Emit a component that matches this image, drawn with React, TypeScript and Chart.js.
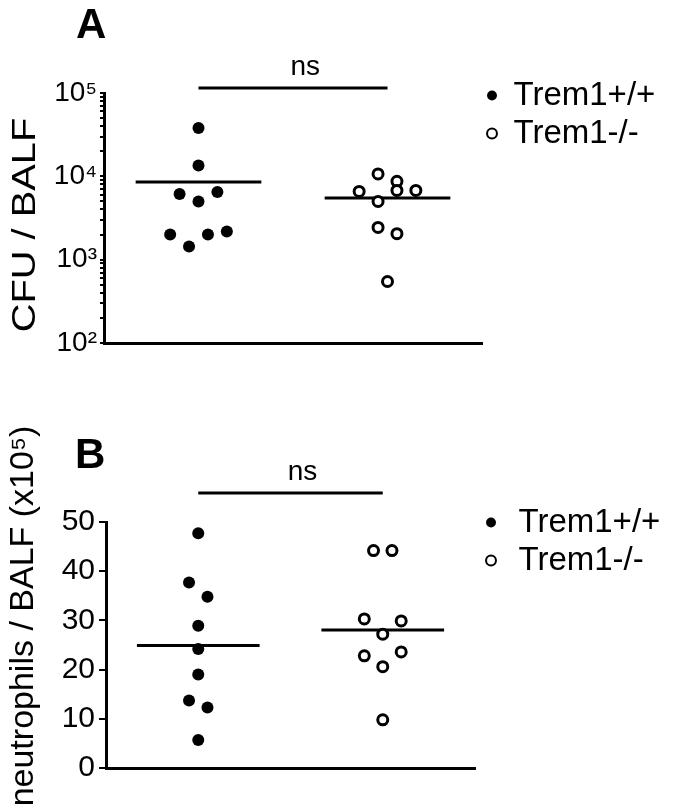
import React, { useEffect, useRef } from 'react';
import { Chart, registerables } from 'chart.js';

Chart.register(...registerables);

const FAMILY = "'Liberation Sans', Arial, Helvetica, sans-serif";
Chart.defaults.font.family = FAMILY;
Chart.defaults.color = '#000';

// ---------- data ----------
const groups = ['Trem1+/+', 'Trem1-/-'];

// Panel A: CFU / BALF (log scale)
const cfuWT = [38000, 13500, 6140, 6490, 5000, 2000, 1440, 2000, 2180];
const cfuWTJitter = [0, 0, -0.2, 0.2, 0, -0.3, -0.1, 0.1, 0.3];
const cfuKO = [10700, 8700, 6590, 6780, 6780, 5000, 2440, 2050, 547];
const cfuKOJitter = [-0.1, 0.1, -0.3, 0.1, 0.3, -0.1, -0.1, 0.1, 0];
const cfuTicks = [100, 1000, 10000, 100000];
const cfuSigLevel = 115000;

// Panel B: neutrophils / BALF (x10^5)
const neuWT = [47.7, 37.7, 34.8, 28.9, 24.2, 19.0, 13.7, 12.3, 5.7];
const neuWTJitter = [0, -0.1, 0.1, 0, 0, 0, -0.1, 0.1, 0];
const neuKO = [44.2, 44.2, 30.3, 29.9, 27.2, 23.6, 22.8, 20.6, 9.8];
const neuKOJitter = [-0.1, 0.1, -0.2, 0.2, 0, 0.2, -0.2, 0, 0];
const neuTicks = [0, 10, 20, 30, 40, 50];
const neuSigLevel = 55.9;

const sigLabel = 'ns';

// ---------- helpers ----------
const W = 673;
const GROUP_X = [1, 3];
const MEAN_HALF = 0.665;
const LEGEND_FONT = 33;
const LEGEND_PAD = 5;
const SUP = '⁰¹²³⁴⁵⁶⁷⁸⁹';
const sup = (n: number) => String(n).split('').map((d) => SUP[+d]).join('');
const mean = (a: number[]) => a.reduce((s, v) => s + v, 0) / a.length;

function measure(text: string, size: number) {
  const c = document.createElement('canvas').getContext('2d');
  if (!c) return text.length * size * 0.55;
  c.font = `${size}px ${FAMILY}`;
  return c.measureText(text).width;
}

const panelPlugin = {
  id: 'panelText',
  afterDraw(chart: any, _args: any, opts: any) {
    const { ctx } = chart;
    ctx.save();
    ctx.fillStyle = '#000';
    ctx.textBaseline = 'alphabetic';
    // panel letter
    ctx.font = `bold 42px ${FAMILY}`;
    ctx.textAlign = 'left';
    ctx.fillText(opts.letter, opts.letterX, opts.letterY);
    // significance label
    ctx.font = `28px ${FAMILY}`;
    ctx.textAlign = 'center';
    ctx.fillText(opts.ns, chart.scales.x.getPixelForValue(opts.nsX), opts.nsY);
    // y axis title
    ctx.translate(opts.titleX, opts.titleY);
    ctx.rotate(-Math.PI / 2);
    ctx.scale(opts.titleStretch, 1);
    ctx.font = `34px ${FAMILY}`;
    ctx.fillText(opts.yTitle, 0, 0);
    ctx.restore();
  },
};

function buildConfig(p: any) {
  const pts = (vals: number[], jit: number[], gx: number) =>
    vals.map((v, i) => ({ x: gx + jit[i], y: v }));
  const meanLine = (vals: number[], gx: number) => {
    const m = mean(vals);
    return [
      { x: gx - MEAN_HALF, y: m },
      { x: gx + MEAN_HALF, y: m },
    ];
  };
  const textW = Math.max(...groups.map((g) => measure(g, LEGEND_FONT)));
  const legendW = Math.ceil(LEGEND_PAD + p.legendBox + LEGEND_FONT / 2 + textW + 1);
  const padRight = Math.max(0, W - p.areaRight - legendW);

  const lineStyle = {
    type: 'scatter' as const,
    showLine: true,
    borderColor: '#000',
    borderWidth: 3,
    pointRadius: 0,
    fill: false,
    order: 3,
  };
  const yScale: any = {
    type: p.log ? 'logarithmic' : 'linear',
    min: p.ticks[0],
    max: p.ticks[p.ticks.length - 1],
    grid: {
      display: true,
      drawOnChartArea: false,
      drawTicks: true,
      tickLength: p.tickLength,
      lineWidth: 2,
      color: '#000',
    },
    border: { display: true, width: 3, color: '#000' },
    ticks: {
      color: '#000',
      autoSkip: false,
      padding: p.tickPad,
      font: { size: p.tickFont, family: FAMILY },
      callback: (v: number) => {
        if (p.log) {
          const e = Math.round(Math.log10(v) * 1000) / 1000;
          return p.ticks.includes(v) ? '10' + sup(e) : '';
        }
        return String(v);
      },
    },
    afterBuildTicks: (scale: any) => {
      const vals: number[] = [];
      if (p.log) {
        for (let i = 0; i < p.ticks.length - 1; i++) {
          for (let k = 1; k <= 9; k++) vals.push(p.ticks[i] * k);
        }
        vals.push(p.ticks[p.ticks.length - 1]);
      } else {
        vals.push(...p.ticks);
      }
      scale.ticks = vals.map((v) => ({ value: v, major: p.ticks.includes(v) }));
    },
    afterFit: (scale: any) => {
      scale.width = p.areaLeft;
      scale.paddingTop = p.areaTop;
    },
  };

  return {
    type: 'scatter' as const,
    data: {
      datasets: [
        {
          label: groups[0],
          data: pts(p.wt, p.wtJit, GROUP_X[0]),
          pointStyle: 'circle',
          pointRadius: 6,
          backgroundColor: '#000',
          borderColor: '#000',
          borderWidth: 0,
          order: 1,
        },
        {
          label: groups[1],
          data: pts(p.ko, p.koJit, GROUP_X[1]),
          pointStyle: 'circle',
          pointRadius: 5,
          backgroundColor: '#fff',
          borderColor: '#000',
          borderWidth: 3,
          order: 2,
        },
        { ...lineStyle, label: 'mean WT', data: meanLine(p.wt, GROUP_X[0]) },
        { ...lineStyle, label: 'mean KO', data: meanLine(p.ko, GROUP_X[1]) },
        {
          ...lineStyle,
          label: 'sig',
          clip: false,
          data: [
            { x: GROUP_X[0], y: p.sig },
            { x: GROUP_X[1], y: p.sig },
          ],
        },
      ],
    },
    options: {
      animation: false,
      responsive: false,
      events: [],
      layout: { padding: { top: p.padTop, left: 0, right: padRight, bottom: 0 } },
      scales: {
        x: {
          type: 'linear',
          min: 0,
          max: 4,
          ticks: { display: false },
          grid: { display: false },
          border: { display: true, width: 3, color: '#000' },
          afterFit: (scale: any) => {
            scale.height = p.xHeight;
          },
        },
        y: yScale,
      },
      plugins: {
        tooltip: { enabled: false },
        title: { display: false },
        legend: {
          display: true,
          position: 'right',
          align: 'start',
          fullSize: true,
          maxWidth: legendW,
          labels: {
            usePointStyle: true,
            boxWidth: p.legendBox,
            boxHeight: 7,
            padding: LEGEND_PAD,
            color: '#000',
            font: { size: LEGEND_FONT, family: FAMILY },
            filter: (item: any) => item.datasetIndex < 2,
            generateLabels: (chart: any) =>
              Chart.defaults.plugins.legend.labels
                .generateLabels(chart)
                .map((l: any) => ({ ...l, lineWidth: l.lineWidth ? 2 : 0 })),
          },
        },
        panelText: {
          letter: p.letter,
          letterX: p.letterX,
          letterY: p.letterY,
          ns: sigLabel,
          nsX: 2.13,
          nsY: 75,
          yTitle: p.yTitle,
          titleX: p.titleX,
          titleY: p.titleY,
          titleStretch: p.titleStretch,
        },
      },
    },
    plugins: [panelPlugin],
  };
}

const panelA = {
  log: true,
  ticks: cfuTicks,
  wt: cfuWT,
  wtJit: cfuWTJitter,
  ko: cfuKO,
  koJit: cfuKOJitter,
  sig: cfuSigLevel,
  tickLength: 4,
  tickPad: 3,
  tickFont: 28,
  areaLeft: 104,
  areaRight: 482,
  areaTop: 93,
  padTop: 74,
  xHeight: 62,
  legendBox: 10,
  letter: 'A',
  letterX: 76,
  letterY: 38,
  yTitle: 'CFU / BALF',
  titleX: 35,
  titleY: 225,
  titleStretch: 1.17,
};

const panelB = {
  log: false,
  ticks: neuTicks,
  wt: neuWT,
  wtJit: neuWTJitter,
  ko: neuKO,
  koJit: neuKOJitter,
  sig: neuSigLevel,
  tickLength: 7,
  tickPad: 4,
  tickFont: 30,
  areaLeft: 106,
  areaRight: 475,
  areaTop: 117,
  padTop: 96,
  xHeight: 42,
  legendBox: 22,
  letter: 'B',
  letterX: 75,
  letterY: 63,
  yTitle: 'neutrophils / BALF (x10' + sup(5) + ')',
  titleX: 33,
  titleY: 211,
  titleStretch: 1,
};

function Panel({ cfg, top }: { cfg: any; top: number }) {
  const ref = useRef<HTMLCanvasElement | null>(null);
  useEffect(() => {
    if (!ref.current) return;
    const chart = new Chart(ref.current, buildConfig(cfg) as any);
    return () => chart.destroy();
  }, [cfg]);
  return (
    <canvas
      ref={ref}
      width={W}
      height={405}
      style={{ position: 'absolute', left: 0, top, width: W, height: 405 }}
    />
  );
}

export default function App() {
  return (
    <div
      style={{
        position: 'absolute',
        left: 0,
        top: 0,
        width: W,
        height: 810,
        background: '#fff',
        overflow: 'hidden',
      }}
    >
      <Panel cfg={panelA} top={0} />
      <Panel cfg={panelB} top={405} />
    </div>
  );
}
